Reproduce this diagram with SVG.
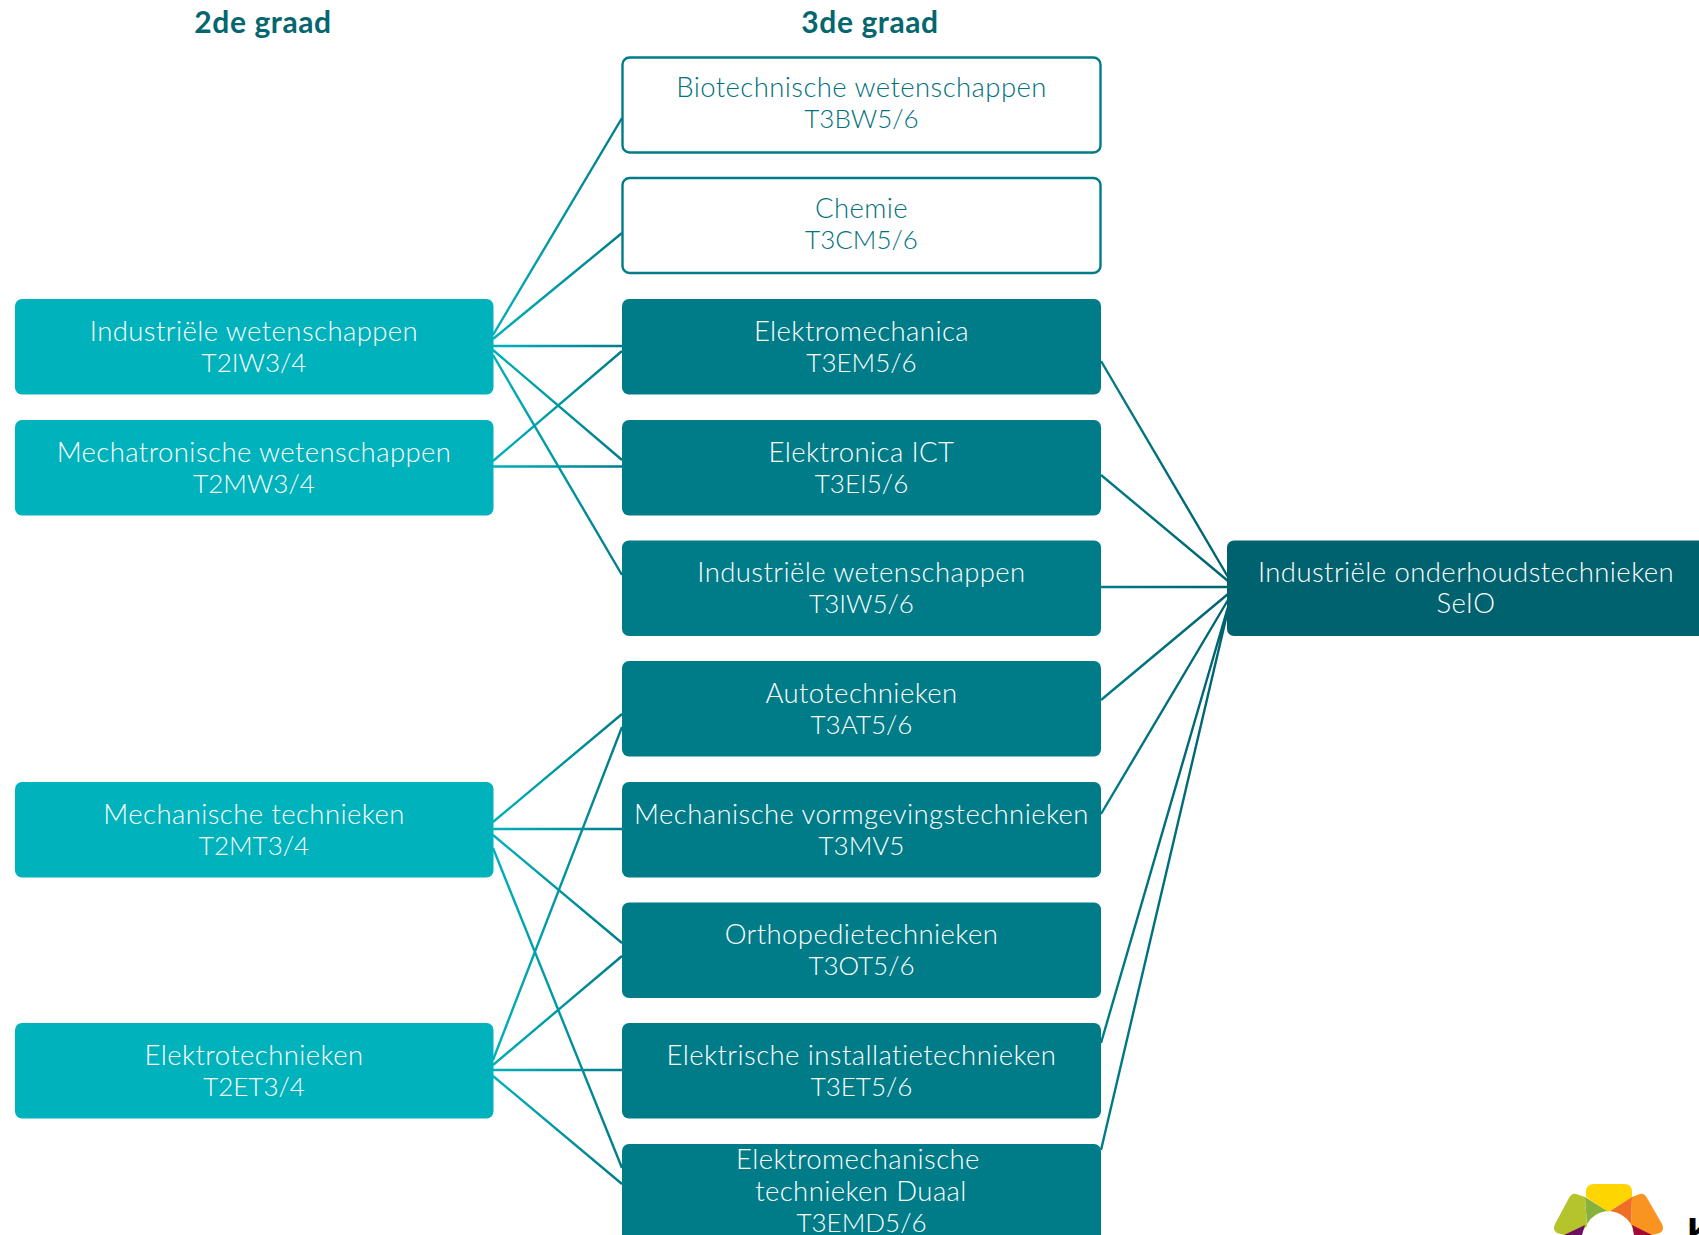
<svg xmlns="http://www.w3.org/2000/svg" width="1699" height="1235" viewBox="0 0 1699 1235">
<style>
.t{font-family:"Lato","Noto Sans",sans-serif;font-weight:300;font-size:26px;text-anchor:middle;fill:#fff}
.n{font-size:27.5px;letter-spacing:.42px}
.h{font-family:"Lato","Noto Sans",sans-serif;font-weight:700;font-size:30px;letter-spacing:.6px;text-anchor:middle;fill:#05666f}
.o{fill:#fff;stroke:#007c89;stroke-width:2.4}
.o~text{fill:#00717d}
.d{fill:#007c89}.l{fill:#00b2bb}.r{fill:#00626f}
.cl{fill:none;stroke-width:2.4;stroke:url(#gl)}
.cr{fill:none;stroke-width:2.4;stroke:url(#gr)}
.k{font-family:"Liberation Sans",sans-serif;font-weight:700;font-size:40px;fill:#000}
</style>
<defs>
<linearGradient id="gl" gradientUnits="userSpaceOnUse" x1="493" y1="0" x2="623" y2="0"><stop offset="0" stop-color="#00b2bb"/><stop offset="1" stop-color="#007c89"/></linearGradient>
<linearGradient id="gr" gradientUnits="userSpaceOnUse" x1="1101" y1="0" x2="1228" y2="0"><stop offset="0" stop-color="#007c89"/><stop offset="1" stop-color="#00626f"/></linearGradient>
</defs>
<rect width="1699" height="1235" fill="#fff"/>
<text class="h" x="263" y="33">2de graad</text>
<text class="h" x="870" y="33">3de graad</text>
<g id="connectors">
<path class="cl" d="M493 335L622 118M493 339L622 233M493 346H622M493 350L622 460M493 355L622 575M493 461L622 351M493 466.500H622M493 822L622 714M493 829H622M493 835L622 943M493 848L622 1168M493 1060L622 727M493 1065L622 956M493 1070H622M493 1076L622 1184"/>
<path class="cr" d="M1101 361L1228 577M1101 475L1228 581M1101 587H1228M1101 700L1228 594M1101 814L1228 600M1101 1043L1228 607M1101 1150L1228 610"/>
</g>
<g id="n-t3bw"><rect class="o" x="622.500" y="57.500" width="478" height="95" rx="7"/><text class="t n" x="861.500" y="97">Biotechnische wetenschappen</text><text class="t" x="861.500" y="128">T3BW5/6</text></g>
<g id="n-t3cm"><rect class="o" x="622.500" y="178" width="478" height="95" rx="7"/><text class="t n" x="861.500" y="218">Chemie</text><text class="t" x="861.500" y="249">T3CM5/6</text></g>
<g id="n-t3em"><rect class="d" x="622" y="299" width="479" height="95.500" rx="7"/><text class="t n" x="861.500" y="341">Elektromechanica</text><text class="t" x="861.500" y="372">T3EM5/6</text></g>
<g id="n-t3ei"><rect class="d" x="622" y="420" width="479" height="95.500" rx="7"/><text class="t n" x="861.500" y="462">Elektronica ICT</text><text class="t" x="861.500" y="493">T3EI5/6</text></g>
<g id="n-t3iw"><rect class="d" x="622" y="540.500" width="479" height="95.500" rx="7"/><text class="t n" x="861.500" y="582">Industriële wetenschappen</text><text class="t" x="861.500" y="613">T3IW5/6</text></g>
<g id="n-t3at"><rect class="d" x="622" y="661" width="479" height="95.500" rx="7"/><text class="t n" x="861.500" y="703">Autotechnieken</text><text class="t" x="861.500" y="734">T3AT5/6</text></g>
<g id="n-t3mv"><rect class="d" x="622" y="782" width="479" height="95.500" rx="7"/><text class="t n" x="861.500" y="824">Mechanische vormgevingstechnieken</text><text class="t" x="861.500" y="855">T3MV5</text></g>
<g id="n-t3ot"><rect class="d" x="622" y="902.500" width="479" height="95.500" rx="7"/><text class="t n" x="861.500" y="944">Orthopedietechnieken</text><text class="t" x="861.500" y="975">T3OT5/6</text></g>
<g id="n-t3et"><rect class="d" x="622" y="1023" width="479" height="95.500" rx="7"/><text class="t n" x="861.500" y="1065">Elektrische installatietechnieken</text><text class="t" x="861.500" y="1096">T3ET5/6</text></g>
<g id="n-t3emd"><rect class="d" x="622" y="1144" width="479" height="110" rx="7"/><text class="t n" x="858" y="1169">Elektromechanische</text><text class="t n" x="861" y="1201">technieken Duaal</text><text class="t" x="861.500" y="1232">T3EMD5/6</text></g>
<g id="n-t2iw"><rect class="l" x="15" y="299" width="478.500" height="95.500" rx="7"/><text class="t n" x="254" y="341">Industriële wetenschappen</text><text class="t" x="254" y="372">T2IW3/4</text></g>
<g id="n-t2mw"><rect class="l" x="15" y="420" width="478.500" height="95.500" rx="7"/><text class="t n" x="254" y="462">Mechatronische wetenschappen</text><text class="t" x="254" y="493">T2MW3/4</text></g>
<g id="n-t2mt"><rect class="l" x="15" y="782" width="478.500" height="95.500" rx="7"/><text class="t n" x="254" y="824">Mechanische technieken</text><text class="t" x="254" y="855">T2MT3/4</text></g>
<g id="n-t2et"><rect class="l" x="15" y="1023" width="478.500" height="95.500" rx="7"/><text class="t n" x="254" y="1065">Elektrotechnieken</text><text class="t" x="254" y="1096">T2ET3/4</text></g>
<g id="n-selo"><rect class="r" x="1227" y="540.500" width="490" height="95.500" rx="7"/><text class="t n" x="1466" y="582">Industriële onderhoudstechnieken</text><text class="t n" x="1466" y="613">SeIO</text></g>
<g id="logo">
<path fill="#ffd500" d="M1586 1192Q1586 1184 1594 1184H1624Q1632 1184 1632 1192V1197L1608 1212L1586 1197Z"/>
<path fill="#b6c42b" d="M1585 1197L1576 1194Q1572 1193 1569 1198L1555 1224Q1552 1230 1557 1233L1564 1235H1578L1587 1226Z"/>
<path fill="#86b13a" d="M1585 1197L1607 1211Q1593 1213 1587 1224Z"/>
<path fill="#fa9421" d="M1632 1197L1640 1194Q1644 1193 1647 1198L1662 1224Q1665 1230 1660 1233L1652 1235H1638L1631 1225Z"/>
<path fill="#ef6e23" d="M1632 1197L1610 1211Q1624 1213 1631 1224Z"/>
<path fill="#6c1166" d="M1585 1225L1564 1235H1582Z"/>
<path fill="#a00b38" d="M1632 1225L1652 1235H1634Z"/>
<text class="k" x="1687" y="1246">K</text>
</g>
</svg>
